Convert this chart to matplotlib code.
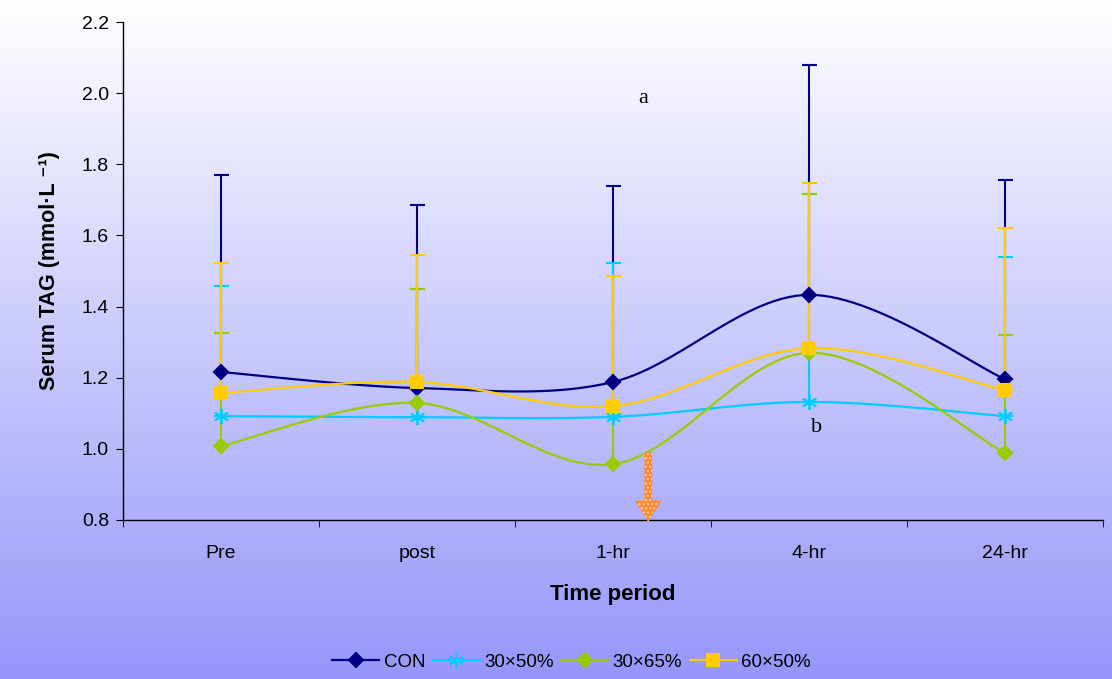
import numpy as np
import matplotlib
matplotlib.use("Agg")
import matplotlib.pyplot as plt
from matplotlib.patches import Polygon
from matplotlib.lines import Line2D

# ---- data ----
categories = ["Pre", "post", "1-hr", "4-hr", "24-hr"]
series_names = ["CON", "30\u00d750%", "30\u00d765%", "60\u00d750%"]
con_mean = [1.216, 1.171, 1.188, 1.433, 1.196]
con_upper = [1.770, 1.685, 1.740, 2.080, 1.756]
s3050_mean = [1.092, 1.089, 1.090, 1.132, 1.092]
s3050_upper = [1.458, 1.450, 1.522, 1.716, 1.540]
s3065_mean = [1.008, 1.129, 0.957, 1.270, 0.988]
s3065_upper = [1.326, 1.450, 1.486, 1.716, 1.320]
s6050_mean = [1.157, 1.188, 1.120, 1.283, 1.165]
s6050_upper = [1.522, 1.545, 1.486, 1.747, 1.621]

colors = ["#000080", "#00ccff", "#99cc00", "#ffcc00"]
markers = ["D", (6, 2, 0), "D", "s"]
msizes = [7, 11, 7, 8.5]
mews = [1.5, 1.3, 1.5, 1.5]
means = [con_mean, s3050_mean, s3065_mean, s6050_mean]
uppers = [con_upper, s3050_upper, s3065_upper, s6050_upper]

plt.rcParams['font.family'] = ['Liberation Sans', 'DejaVu Sans']

fig = plt.figure(figsize=(11.12, 6.79), dpi=100)

# gradient background
bg = fig.add_axes([0, 0, 1, 1], zorder=-10)
grad = np.linspace(0, 1, 256).reshape(-1, 1)
top = np.array([1.0, 1.0, 1.0])
bot = np.array([150/255, 150/255, 250/255])
img = top[None, None, :] * (1 - grad[:, :, None]) + bot[None, None, :] * grad[:, :, None]
bg.imshow(img, aspect='auto', extent=[0, 1, 0, 1])
bg.set_axis_off()

ax = fig.add_axes([123/1112, 1 - 520/679, 980/1112, 498/679])
ax.set_facecolor('none')

x = np.arange(len(categories))


def smooth(xs, ys, n=30):
    xs = np.asarray(xs, float); ys = np.asarray(ys, float)
    P = np.column_stack([xs, ys])
    out = []
    for i in range(len(P) - 1):
        p0 = P[i - 1] if i > 0 else P[i]
        p1 = P[i]; p2 = P[i + 1]
        p3 = P[i + 2] if i + 2 < len(P) else P[i + 1]
        c1 = p1 + (p2 - p0) / 6
        c2 = p2 - (p3 - p1) / 6
        t = np.linspace(0, 1, n)[:, None]
        seg = (1 - t) ** 3 * p1 + 3 * (1 - t) ** 2 * t * c1 + 3 * (1 - t) * t ** 2 * c2 + t ** 3 * p2
        out.append(seg if i == 0 else seg[1:])
    out = np.vstack(out)
    return out[:, 0], out[:, 1]


handles = []
for k in range(4):
    m = np.array(means[k]); u = np.array(uppers[k])
    ax.errorbar(x, m, yerr=[np.zeros_like(m), u - m], fmt='none', ecolor=colors[k],
                elinewidth=1.5, capsize=5.4, capthick=1.5, zorder=2 + k)
for k in range(4):
    sx, sy = smooth(x, means[k])
    ax.plot(sx, sy, color=colors[k], lw=1.6, zorder=7 + k)
    ax.plot(x, means[k], linestyle='none', marker=markers[k], ms=msizes[k],
            color=colors[k], mec=colors[k], mew=mews[k], zorder=12 + k)
    handles.append(Line2D([], [], color=colors[k], lw=1.6, marker=markers[k],
                          ms=msizes[k], mec=colors[k], mew=mews[k]))

ax.set_xlim(-0.5, 4.5)
ax.set_ylim(0.8, 2.2)
ax.set_yticks(np.arange(0.8, 2.21, 0.2))
ax.set_yticklabels([f"{v:.1f}" for v in np.arange(0.8, 2.21, 0.2)])
ax.set_xticks(x)
ax.set_xticklabels(categories)
ax.set_xticks(np.arange(-0.5, 4.6, 1), minor=True)
ax.tick_params(axis='x', which='major', length=0, pad=18, labelsize=14)
ax.tick_params(axis='x', which='minor', length=5, direction='out')
ax.tick_params(axis='y', length=5, direction='out', labelsize=14, pad=5)
for s in ['top', 'right']:
    ax.spines[s].set_visible(False)
for s in ['left', 'bottom']:
    ax.spines[s].set_color('black')
    ax.spines[s].set_linewidth(1.0)

ax.set_ylabel("Serum TAG (mmol\u00b7L \u207b\u00b9)", fontsize=15.5, fontweight='bold', labelpad=16)
ax.set_xlabel("Time period", fontsize=16, fontweight='bold', labelpad=16)

ax.text(2.153, 1.986, "a", fontsize=16, family='Liberation Serif', ha='center', va='center', zorder=20)
ax.text(3.04, 1.061, "b", fontsize=16, family='Liberation Serif', ha='center', va='center', zorder=20)

# orange dotted arrow
ax_x = 2.18
sw = 0.02; hw = 0.068
y0 = 0.99; yh = 0.855; yt = 0.795
arrow = Polygon([[ax_x - sw, y0], [ax_x + sw, y0], [ax_x + sw, yh], [ax_x + hw, yh],
                 [ax_x, yt], [ax_x - hw, yh], [ax_x - sw, yh]], closed=True,
                facecolor='#ff8833', edgecolor='#ffd0a8', hatch='....', lw=0,
                zorder=20, clip_on=False)
ax.add_patch(arrow)

fig.legend(handles, series_names, loc='center', bbox_to_anchor=(0.514, 0.025), ncol=4,
           frameon=False, fontsize=13.5, handlelength=2.5, columnspacing=0.4,
           handletextpad=0.25, borderpad=0.2)

fig.savefig("out.png", dpi=100)
